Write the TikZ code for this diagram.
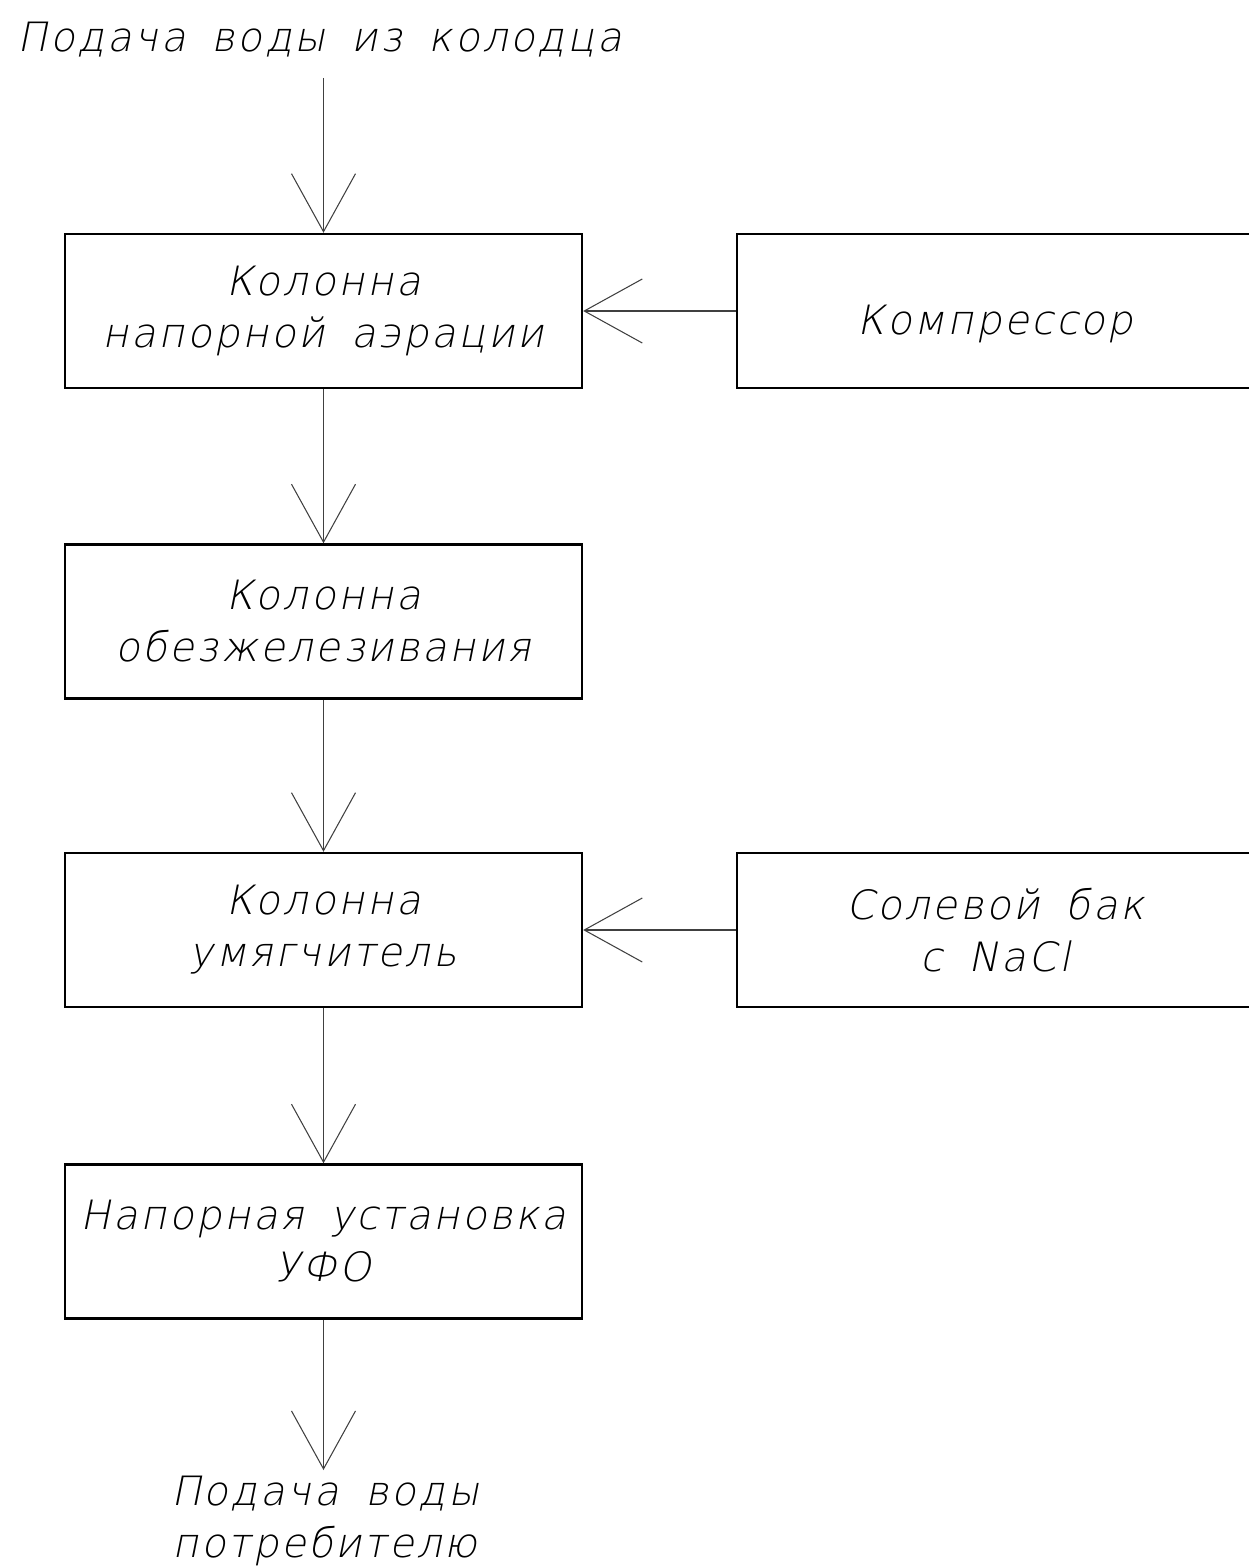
\documentclass[tikz,border=0pt]{standalone}
\usepackage{fontspec}
\setmainfont{DejaVu Sans ExtraLight}[FakeSlant=0.2,LetterSpace=6,WordSpace=1.7]
\usetikzlibrary{arrows.meta}

\tikzset{
  blok/.style={draw, line width=1.4pt, minimum width=10.34cm, minimum height=3.08cm,
    align=center, inner sep=0pt, font=\fontsize{23}{29.6}\selectfont},
  podpis/.style={align=center, inner sep=0pt, font=\fontsize{23}{29.6}\selectfont},
  potok/.style={-{Straight Barb[length=11.6mm,width=12.8mm,line width=0.6pt]},
    line width=0.6pt, draw=black!75}
}

\begin{document}
\begin{tikzpicture}[x=0.02cm,y=-0.02cm]
    \useasboundingbox (0,0) rectangle (1248,1567);
    \node[podpis] (vhod) at (320, 40) {Подача воды из колодца};
    \coordinate (vhodA) at (323.5, 78);
    \node[blok] (aer) at (323.5, 311) {Колонна\\напорной аэрации};
    \node[blok] (obezh) at (323.5, 621.5) {Колонна\\обезжелезивания};
    \node[blok] (umyag) at (323.5, 930) {Колонна\\умягчитель};
    \node[blok] (ufo) at (323.5, 1241.5) {Напорная установка\\УФО};
    \node[blok] (komp) at (995.5, 311) {\raisebox{-0.48cm}[0pt][0pt]{Компрессор}};
    \node[blok] (sol) at (995.5, 930) {Солевой бак\\с NaCl};
    \coordinate (vyhodA) at (323.5, 1470);
    \node[podpis] (vyhod) at (325, 1521) {Подача воды\\потребителю};
    \draw [potok] (vhodA) to (aer.north);
    \draw [potok] (aer.south) to (obezh.north);
    \draw [potok] (obezh.south) to (umyag.north);
    \draw [potok] (umyag.south) to (ufo.north);
    \draw [potok] (ufo.south) to (vyhodA);
    \draw [potok] (komp.west) to (aer.east);
    \draw [potok] (sol.west) to (umyag.east);
  \end{tikzpicture}
\end{document}
